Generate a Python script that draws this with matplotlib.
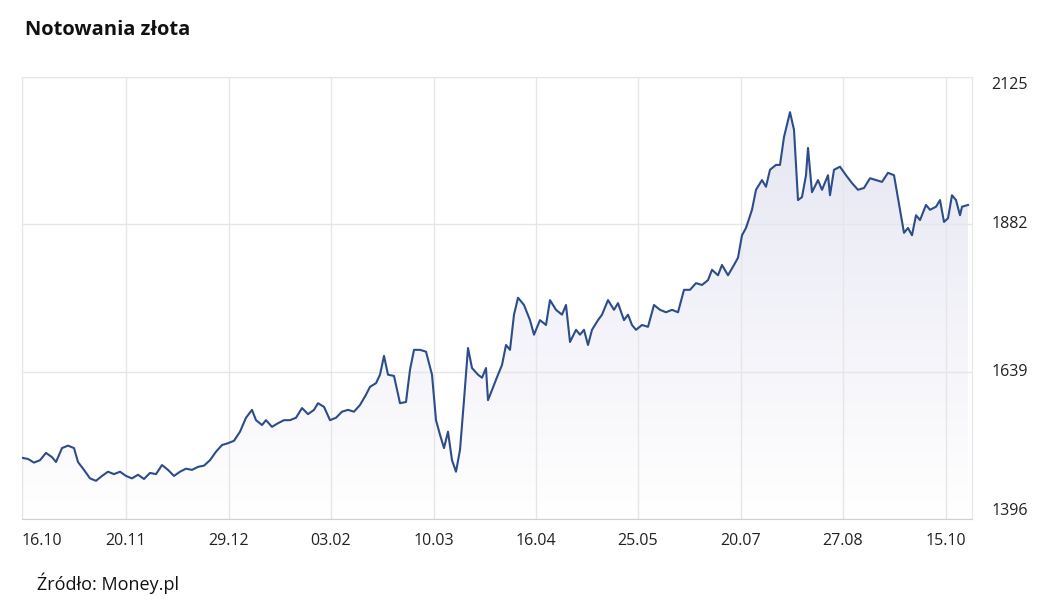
import matplotlib
matplotlib.use("Agg")
import matplotlib.pyplot as plt
import numpy as np
from matplotlib.patches import Polygon
from matplotlib.colors import LinearSegmentedColormap

plt.rcParams['font.family'] = ['Open Sans', 'DejaVu Sans']

# time positions of samples (axis units, 0..950)
t = [0,6,12,18,24,30,34,40,46,52,56,62,68,74,80,86,92,98,104,110,116,122,128,134,140,146,152,158,164,170,176,182,188,194,200,
206,212,218,224,230,234,240,244,250,256,262,268,274,280,286,292,296,302,308,314,320,326,332,338,344,348,354,358,362,366,372,378,
384,388,392,398,404,410,414,418,422,426,430,434,438,442,446,450,456,460,464,466,470,476,480,484,488,492,496,502,508,512,518,524,528,
534,540,544,548,554,558,562,566,570,576,580,586,592,596,602,606,610,614,620,626,632,638,644,650,656,662,668,674,680,686,690,
696,700,706,712,716,720,724,730,734,740,744,748,754,758,762,768,772,776,780,784,786,790,796,800,806,808,812,818,824,830,836,842,848,854,
860,866,872,878,882,886,890,894,898,904,908,914,918,922,926,930,934,938,940,946,950]
prices = [1497,1495,1489,1493,1505,1498,1490,1513,1517,1513,1490,1477,1463,1459,1467,1474,1470,1474,1467,1463,
1469,1462,1472,1470,1485,1477,1467,1474,1479,1477,1482,1484,1493,1507,1518,1521,1525,1540,1563,1576,
1559,1551,1559,1548,1554,1559,1559,1563,1579,1569,1576,1587,1581,1559,1563,1573,1576,1573,1584,1601,
1614,1620,1634,1665,1634,1632,1587,1589,1642,1675,1675,1672,1634,1559,1535,1513,1540,1493,1474,1510,
1592,1678,1645,1634,1629,1645,1592,1609,1634,1650,1683,1675,1733,1761,1749,1724,1700,1724,1716,1757,
1741,1733,1749,1688,1708,1700,1708,1683,1708,1724,1733,1757,1741,1752,1724,1733,1716,1708,1716,1713,
1749,1741,1737,1741,1737,1774,1774,1785,1782,1790,1807,1798,1815,1798,1815,1827,1864,1876,1906,1939,
1955,1944,1972,1980,1980,2026,2067,2038,1922,1927,1963,2008,1935,1955,1939,1963,1930,1972,1977,1963,
1950,1939,1942,1958,1955,1952,1967,1963,1906,1868,1876,1864,1897,1889,1914,1906,1911,1922,1886,1892,
1930,1922,1897,1911,1914]
x_labels = ["16.10","20.11","29.12","03.02","10.03","16.04","25.05","20.07","27.08","15.10"]
x_label_t = [0,104,207,309,412,514,616,719,821,924]
y_ticks = [1396,1639,1882,2125]

n = min(len(t), len(prices))
t = t[:n]; prices = prices[:n]
fig = plt.figure(figsize=(10.56,6.12), dpi=100)
ax = fig.add_axes([22/1056, 1-519/612, 950/1056, 442/612])
ax.set_xlim(0, 950)
ymin, ymax = y_ticks[0], y_ticks[-1]
ax.set_ylim(ymin, ymax)

grad = np.linspace(0,1,256).reshape(-1,1)
cm = LinearSegmentedColormap.from_list("g", ["#ffffff", "#e4e4f2"])
im = ax.imshow(grad, cmap=cm, aspect="auto", extent=[0,950,ymin,ymax], origin="lower", zorder=1)
poly = Polygon(list(zip(t, prices)) + [(t[-1], ymin), (t[0], ymin)], closed=True, transform=ax.transData)
im.set_clip_path(poly)
ax.plot(t, prices, color="#2c4c8a", lw=1.5, zorder=3)

ax.set_xticks(x_label_t)
ax.set_xticklabels(x_labels, fontsize=11.5, color="#222222")
ax.set_yticks(y_ticks)
ax.set_yticklabels([str(v) for v in y_ticks], fontsize=11.5, color="#222222")
ax.yaxis.tick_right()
for lab, va in zip(ax.get_yticklabels(), ["bottom","center","center","top"]):
    lab.set_verticalalignment(va)
ax.tick_params(length=0, pad=14, axis="y")
ax.tick_params(length=0, pad=10, axis="x")
for lab in ax.get_xticklabels()[1:]:
    lab.set_horizontalalignment("center")
ax.get_xticklabels()[0].set_horizontalalignment("left")
ax.grid(True, color="#e6e6e6", lw=1, zorder=0)
for s in ax.spines.values():
    s.set_color("#e6e6e6")
ax.spines["bottom"].set_color("#d0d0d0")

fig.text(25/1056, 1-30/612, "Notowania złota", fontsize=14.5, fontweight="bold", va="center", color="#111111")
fig.text(37/1056, 1-583/612, "Źródło: Money.pl", fontsize=13, va="center", color="#111111")
fig.savefig("out.png", dpi=100)
